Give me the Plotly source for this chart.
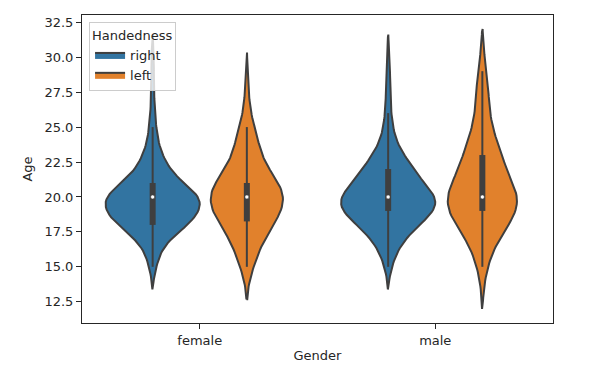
import numpy as np
import plotly.graph_objects as go

# ---------------- data ----------------
genders = ["female", "male"]
handedness = ["right", "left"]
ages = list(range(15, 31))
# number of respondents per age (15..30)
female_right_counts = [4, 7, 16, 39, 50, 55, 30, 17, 10, 5, 4, 2, 2, 1, 1, 2]
female_left_counts = [2, 3, 4, 7, 10, 11, 10, 4, 4, 3, 2, 1, 0, 1, 0, 0]
male_right_counts = [5, 10, 22, 40, 65, 68, 45, 35, 20, 10, 6, 4, 3, 3, 2, 3]
male_left_counts = [1, 1, 2, 4, 6, 9, 3, 3, 4, 2, 1, 1, 1, 1, 1, 0]

counts = {
    ("female", "right"): female_right_counts,
    ("female", "left"): female_left_counts,
    ("male", "right"): male_right_counts,
    ("male", "left"): male_left_counts,
}

# ---------------- style ----------------
colors = {"right": "#3274a1", "left": "#e1812c"}
gray = "#3f3f3f"
text_color = "#262626"
FONT = "DejaVu Sans"
width_total = 0.8
dwidth = width_total / len(handedness) / 2
offsets = (np.arange(len(handedness)) - (len(handedness) - 1) / 2) * (width_total / len(handedness))


def kde(data, cut=2, gridsize=100):
    n = len(data)
    bw = n ** (-1 / 5) * data.std(ddof=1)
    grid = np.linspace(data.min() - cut * bw, data.max() + cut * bw, gridsize)
    dens = np.exp(-0.5 * ((grid[:, None] - data[None, :]) / bw) ** 2).sum(1) / (n * bw * np.sqrt(2 * np.pi))
    return grid, dens


samples = {k: np.repeat(np.array(ages, float), v) for k, v in counts.items()}
kdes = {k: kde(v) for k, v in samples.items()}

fig = go.Figure()
ymins, ymaxs = [], []
for gi, g in enumerate(genders):
    gmax = max(kdes[(g, h)][1].max() for h in handedness)
    for hi, h in enumerate(handedness):
        data = samples[(g, h)]
        grid, dens = kdes[(g, h)]
        d = dens / gmax * dwidth
        c = gi + offsets[hi]
        ymins.append(grid.min()); ymaxs.append(grid.max())
        xs = np.concatenate([c - d, (c + d)[::-1], [c - d[0]]])
        ys = np.concatenate([grid, grid[::-1], [grid[0]]])
        fig.add_trace(go.Scatter(
            x=xs, y=ys, mode="lines", fill="toself", fillcolor=colors[h],
            line=dict(color=gray, width=2), name=h, legendgroup=h,
            showlegend=(gi == 0), hoverinfo="skip"))
        q25, q50, q75 = np.percentile(data, [25, 50, 75])
        iqr = q75 - q25
        lo = data[data >= q25 - 1.5 * iqr].min()
        hi_ = data[data <= q75 + 1.5 * iqr].max()
        fig.add_trace(go.Scatter(x=[c, c], y=[lo, hi_], mode="lines",
                                 line=dict(color=gray, width=2), showlegend=False, hoverinfo="skip"))
        fig.add_trace(go.Scatter(x=[c, c], y=[q25, q75], mode="lines",
                                 line=dict(color=gray, width=6), showlegend=False, hoverinfo="skip"))
        fig.add_trace(go.Scatter(x=[c], y=[q50], mode="markers",
                                 marker=dict(color="white", size=4, line=dict(color=gray, width=0.5)),
                                 showlegend=False, hoverinfo="skip"))

ylo, yhi = min(ymins), max(ymaxs)
pad = (yhi - ylo) * 0.05

axis_common = dict(
    showgrid=False, zeroline=False, showline=True, mirror=True,
    linecolor=text_color, linewidth=1, automargin=False,
    ticks="outside", ticklen=5, tickwidth=1, tickcolor=text_color,
    tickfont=dict(family=FONT, size=13, color=text_color),
)

# the page body has an 8px default margin; the figure is sized to fit within the window
fig.update_layout(
    template="none",
    width=593, height=368,
    margin=dict(l=74, r=48, t=7, b=53, autoexpand=False),
    paper_bgcolor="white", plot_bgcolor="white",
    font=dict(family=FONT, size=13, color=text_color),
    showlegend=True,
    legend=dict(
        title=dict(text="Handedness", font=dict(family=FONT, size=13, color=text_color)),
        x=0.015, y=0.977, xanchor="left", yanchor="top",
        bgcolor="rgba(255,255,255,0.8)", bordercolor="#cccccc", borderwidth=1,
        font=dict(family=FONT, size=13, color=text_color), tracegroupgap=0,
    ),
    xaxis=dict(
        range=[-0.5, 1.5], tickvals=list(range(len(genders))), ticktext=genders,
        title=dict(text="Gender", standoff=4, font=dict(family=FONT, size=13, color=text_color)),
        **axis_common,
    ),
    yaxis=dict(
        range=[ylo - pad, yhi + pad], tick0=0, dtick=2.5, tickformat=".1f",
        title=dict(text="Age", standoff=8, font=dict(family=FONT, size=13, color=text_color)),
        **axis_common,
    ),
)

fig.write_html("out.html")
